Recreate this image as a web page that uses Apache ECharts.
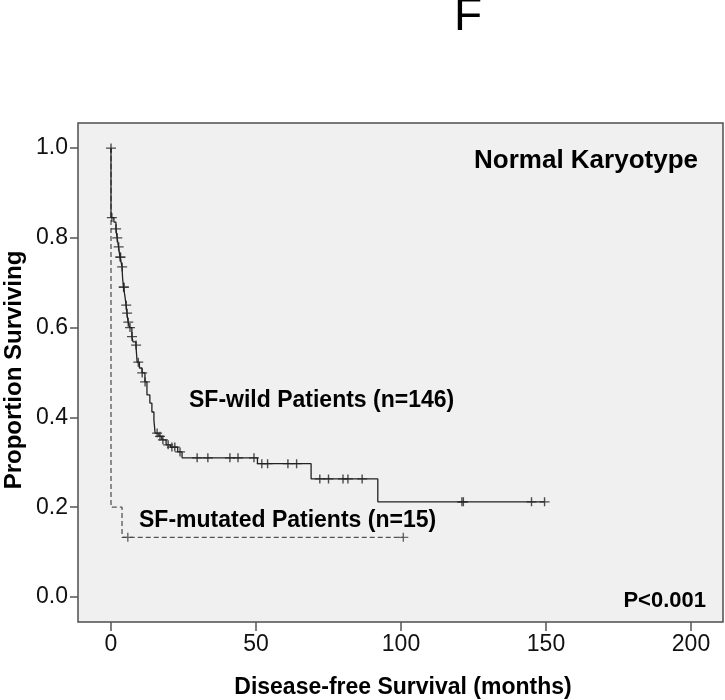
<!DOCTYPE html>
<html>
<head>
<meta charset="utf-8">
<script src="https://cdn.jsdelivr.net/npm/echarts@6/dist/echarts.min.js"></script>
<style>
html,body{margin:0;padding:0;background:#fff;}
#chart{width:725px;height:700px;}
</style>
</head>
<body>
<div id="chart"></div>
<script>
// Kaplan-Meier step data (time in months, proportion surviving after event)
var wildTimes = [0, 0, 1.0, 1.7, 2.1, 2.6, 3.1, 3.5, 3.8, 4.0, 4.3, 4.8, 5.2, 5.5, 5.9, 6.5, 7.2, 7.6, 8.6, 9.0, 9.8, 10.7, 11.7, 12.4, 13.4, 14.1, 14.8, 15.2, 16.5, 17.5, 19.0, 20.5, 23.0, 24.5, 50.5, 69, 92, 149.5];
var wildSurv  = [1.0, 0.845, 0.835, 0.82, 0.80, 0.78, 0.757, 0.745, 0.735, 0.71, 0.69, 0.67, 0.65, 0.632, 0.612, 0.60, 0.58, 0.568, 0.561, 0.523, 0.51, 0.499, 0.479, 0.45, 0.432, 0.412, 0.394, 0.365, 0.358, 0.35, 0.339, 0.334, 0.323, 0.31, 0.297, 0.263, 0.212, 0.212];
var wildCensor = [0, 0.3, 1.75, 2.15, 2.65, 3.15, 3.3, 3.85, 4.35, 4.5, 5.25, 5.55, 5.95, 6.55, 7.25, 8.65, 9.4, 10.75, 11.75, 15.9, 16.9, 17.9, 19.7, 21.0, 22.0, 23.8, 29.7, 33.4, 41, 43.8, 49.3, 52, 54, 61, 64, 72, 75, 80, 81.7, 86.6, 121, 121.5, 145, 149.5];

var mutTimes = [0, 0, 3.8, 100.8];
var mutSurv  = [1.0, 0.2, 0.133, 0.133];
var mutCensor = [5.8, 100.8];

var xTicks = [0, 50, 100, 150, 200];
var yTicks = [0, 0.2, 0.4, 0.6, 0.8, 1.0];

// survival at a censoring time (events strictly earlier)
function survAt(times, survs, t) {
  var s = survs[0];
  for (var i = 0; i < times.length; i++) { if (times[i] < t) s = survs[i]; }
  return s;
}
function pairs(a, b) { return a.map(function (v, i) { return [v, b[i]]; }); }
function censorPts(c, times, survs) { return c.map(function (t) { return [t, survAt(times, survs, t)]; }); }

var FONT = "'Liberation Sans', Arial, sans-serif";
var plus = 'path://M0,4.3h10v1.4h-10z M4.3,0h1.4v10h-1.4z';

var chart = echarts.init(document.getElementById('chart'), null, {renderer: 'canvas'});
chart.setOption({
  animation: false,
  backgroundColor: '#ffffff',
  grid: {left: 78, right: 2, top: 123, bottom: 78, show: true, backgroundColor: '#f0f0f0', borderColor: '#4d4d4d', borderWidth: 1.5},
  xAxis: {
    type: 'value', min: -11.38, max: 211.03, position: 'bottom',
    axisLine: {show: false, onZero: false},
    splitLine: {show: false},
    axisTick: {show: true, length: 9, lineStyle: {color: '#555', width: 1.5}, customValues: xTicks},
    axisLabel: {show: true, margin: 11, fontSize: 23, fontFamily: FONT, color: '#111', customValues: xTicks}
  },
  yAxis: {
    type: 'value', min: -0.0557, max: 1.0557, position: 'left',
    axisLine: {show: false, onZero: false},
    splitLine: {show: false},
    axisTick: {show: true, length: 8, lineStyle: {color: '#555', width: 1.5}, customValues: yTicks},
    axisLabel: {show: true, margin: 10, fontSize: 23, fontFamily: FONT, color: '#111', customValues: yTicks,
      formatter: function (v) { return Number(v).toFixed(1); }}
  },
  series: [
    {type: 'line', step: 'end', data: pairs(wildTimes, wildSurv), showSymbol: false, symbol: 'none',
      lineStyle: {color: '#222', width: 1.3}, z: 3},
    {type: 'line', step: 'end', data: pairs(mutTimes, mutSurv), showSymbol: false, symbol: 'none',
      lineStyle: {color: '#555', width: 1.3, type: [5, 3]}, z: 2},
    {type: 'scatter', data: censorPts(wildCensor, wildTimes, wildSurv), symbol: plus, symbolSize: [10, 9],
      itemStyle: {color: '#222'}, z: 4},
    {type: 'scatter', data: censorPts(mutCensor, mutTimes, mutSurv), symbol: plus, symbolSize: [10, 9],
      itemStyle: {color: '#444'}, z: 4}
  ],
  graphic: [
    {type: 'text', style: {text: 'F', x: 468, y: 17, font: 'normal 46px ' + FONT, fill: '#000', textAlign: 'center', textVerticalAlign: 'middle'}},
    {type: 'text', style: {text: 'Normal Karyotype', x: 698, y: 161, font: 'bold 26px ' + FONT, fill: '#000', textAlign: 'right', textVerticalAlign: 'middle'}},
    {type: 'text', style: {text: 'SF-wild Patients (n=146)', x: 189, y: 401, font: 'bold 23px ' + FONT, fill: '#000', textAlign: 'left', textVerticalAlign: 'middle'}},
    {type: 'text', style: {text: 'SF-mutated Patients (n=15)', x: 139, y: 521, font: 'bold 23px ' + FONT, fill: '#000', textAlign: 'left', textVerticalAlign: 'middle'}},
    {type: 'text', style: {text: 'P<0.001', x: 706, y: 601, font: 'bold 22px ' + FONT, fill: '#000', textAlign: 'right', textVerticalAlign: 'middle'}},
    {type: 'text', style: {text: 'Disease-free Survival (months)', x: 403, y: 688, font: 'bold 23px ' + FONT, fill: '#000', textAlign: 'center', textVerticalAlign: 'middle'}},
    {type: 'text', x: 14, y: 370, rotation: Math.PI / 2, style: {text: 'Proportion Surviving', x: 0, y: 0, font: 'bold 24px ' + FONT, fill: '#000', textAlign: 'center', textVerticalAlign: 'middle'}}
  ]
});
</script>
</body>
</html>
